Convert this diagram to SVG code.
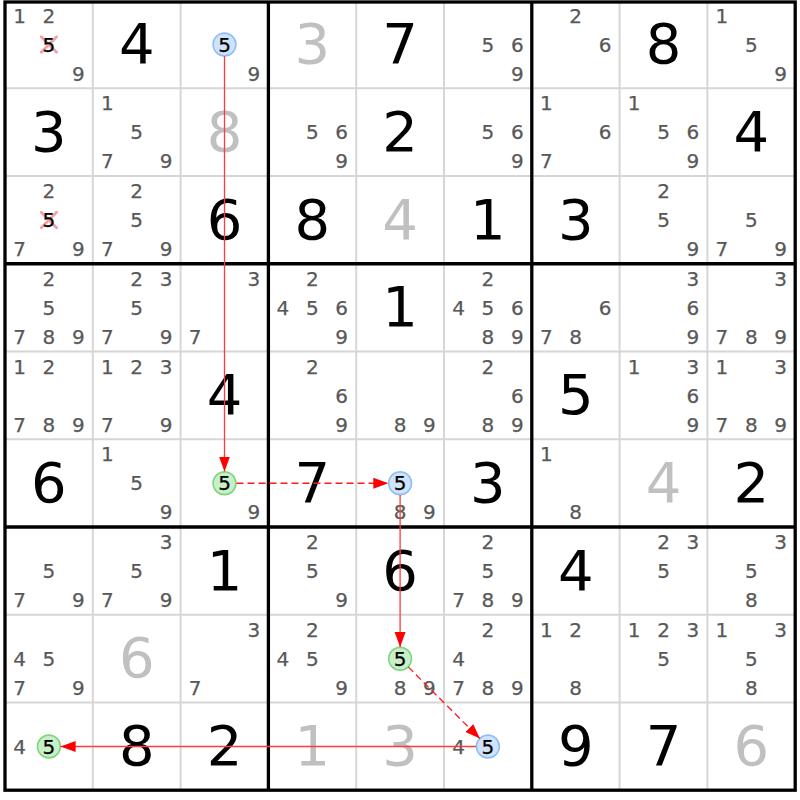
<svg xmlns="http://www.w3.org/2000/svg" width="800" height="800" viewBox="0 0 800 800">
<style>
.c{font-family:"DejaVu Sans",Verdana,sans-serif;font-size:20px;fill:#585858;stroke:#585858;stroke-width:0.25;text-anchor:middle}
.b{font-family:"DejaVu Sans",Verdana,sans-serif;font-size:56px;fill:#000;text-anchor:middle}
.g{fill:#c0c0c0}
.k{fill:#000;stroke:#000}
.thin{stroke:#d6d6d6;stroke-width:2;fill:none}
.thick{stroke:#000;stroke-width:3.3;fill:none}
.hb{fill:#cfe3fb;stroke:#8ec0f5;stroke-width:1.6}
.hg{fill:#c8efc8;stroke:#7fd67f;stroke-width:1.6}
.x{stroke:#f4a0a6;stroke-width:2.8;stroke-linecap:round}
.solid{stroke:#ff3b3b;stroke-width:1.3;fill:none}
.dash{stroke:#ff1a1a;stroke-width:1.3;fill:none;stroke-dasharray:7 4}
</style>
<defs>
<marker id="ah" markerUnits="userSpaceOnUse" markerWidth="16" markerHeight="12" refX="15" refY="5.5" orient="auto">
<path d="M0,0 L15,5.5 L0,11 z" fill="#ff0000"/>
</marker>
</defs>
<rect width="800" height="800" fill="#fff"/>
<g id="grid">
<path class="thin" d="M92.8,2V790.2M180.6,2V790.2M356.2,2V790.2M444,2V790.2M619.6,2V790.2M707.4,2V790.2M5,88.25H795.2M5,176H795.2M5,351.5H795.2M5,439.25H795.2M5,614.75H795.2M5,702.5H795.2"/>
<path class="thick" d="M268.4,2V790.2M531.8,2V790.2M5,263.75H795.2M5,527H795.2"/>
<rect class="thick" x="5" y="2" width="790.2" height="788.2"/>
</g>
<g id="cells">
<!-- Row 0 -->
<g id="r0c0" transform="translate(5,0.5)"><text class="c" x="14.5" y="22.2">1</text><text class="c" x="43.9" y="22.2">2</text><path class="x" d="M36.2,36.3L51.6,51.7M51.6,36.3L36.2,51.7"/><text class="c k" x="43.9" y="51.2">5</text><text class="c" x="73.3" y="80.2">9</text></g>
<g id="r0c1" transform="translate(92.8,0.5)"><text class="b" x="43.9" y="62.5">4</text></g>
<g id="r0c2" transform="translate(180.6,0.5)"><circle class="hb" cx="43.9" cy="44" r="11.4"/><text class="c k" x="43.9" y="51.2">5</text><text class="c" x="73.3" y="80.2">9</text></g>
<g id="r0c3" transform="translate(268.4,0.5)"><text class="b g" x="43.9" y="62.5">3</text></g>
<g id="r0c4" transform="translate(356.2,0.5)"><text class="b" x="43.9" y="62.5">7</text></g>
<g id="r0c5" transform="translate(444,0.5)"><text class="c" x="43.9" y="51.2">5</text><text class="c" x="73.3" y="51.2">6</text><text class="c" x="73.3" y="80.2">9</text></g>
<g id="r0c6" transform="translate(531.8,0.5)"><text class="c" x="43.9" y="22.2">2</text><text class="c" x="73.3" y="51.2">6</text></g>
<g id="r0c7" transform="translate(619.6,0.5)"><text class="b" x="43.9" y="62.5">8</text></g>
<g id="r0c8" transform="translate(707.4,0.5)"><text class="c" x="14.5" y="22.2">1</text><text class="c" x="43.9" y="51.2">5</text><text class="c" x="73.3" y="80.2">9</text></g>
<!-- Row 1 -->
<g id="r1c0" transform="translate(5,88.25)"><text class="b" x="43.9" y="62.5">3</text></g>
<g id="r1c1" transform="translate(92.8,88.25)"><text class="c" x="14.5" y="22.2">1</text><text class="c" x="43.9" y="51.2">5</text><text class="c" x="14.5" y="80.2">7</text><text class="c" x="73.3" y="80.2">9</text></g>
<g id="r1c2" transform="translate(180.6,88.25)"><text class="b g" x="43.9" y="62.5">8</text></g>
<g id="r1c3" transform="translate(268.4,88.25)"><text class="c" x="43.9" y="51.2">5</text><text class="c" x="73.3" y="51.2">6</text><text class="c" x="73.3" y="80.2">9</text></g>
<g id="r1c4" transform="translate(356.2,88.25)"><text class="b" x="43.9" y="62.5">2</text></g>
<g id="r1c5" transform="translate(444,88.25)"><text class="c" x="43.9" y="51.2">5</text><text class="c" x="73.3" y="51.2">6</text><text class="c" x="73.3" y="80.2">9</text></g>
<g id="r1c6" transform="translate(531.8,88.25)"><text class="c" x="14.5" y="22.2">1</text><text class="c" x="73.3" y="51.2">6</text><text class="c" x="14.5" y="80.2">7</text></g>
<g id="r1c7" transform="translate(619.6,88.25)"><text class="c" x="14.5" y="22.2">1</text><text class="c" x="43.9" y="51.2">5</text><text class="c" x="73.3" y="51.2">6</text><text class="c" x="73.3" y="80.2">9</text></g>
<g id="r1c8" transform="translate(707.4,88.25)"><text class="b" x="43.9" y="62.5">4</text></g>
<!-- Row 2 -->
<g id="r2c0" transform="translate(5,176)"><text class="c" x="43.9" y="22.2">2</text><path class="x" d="M36.2,36.3L51.6,51.7M51.6,36.3L36.2,51.7"/><text class="c k" x="43.9" y="51.2">5</text><text class="c" x="14.5" y="80.2">7</text><text class="c" x="73.3" y="80.2">9</text></g>
<g id="r2c1" transform="translate(92.8,176)"><text class="c" x="43.9" y="22.2">2</text><text class="c" x="43.9" y="51.2">5</text><text class="c" x="14.5" y="80.2">7</text><text class="c" x="73.3" y="80.2">9</text></g>
<g id="r2c2" transform="translate(180.6,176)"><text class="b" x="43.9" y="62.5">6</text></g>
<g id="r2c3" transform="translate(268.4,176)"><text class="b" x="43.9" y="62.5">8</text></g>
<g id="r2c4" transform="translate(356.2,176)"><text class="b g" x="43.9" y="62.5">4</text></g>
<g id="r2c5" transform="translate(444,176)"><text class="b" x="43.9" y="62.5">1</text></g>
<g id="r2c6" transform="translate(531.8,176)"><text class="b" x="43.9" y="62.5">3</text></g>
<g id="r2c7" transform="translate(619.6,176)"><text class="c" x="43.9" y="22.2">2</text><text class="c" x="43.9" y="51.2">5</text><text class="c" x="73.3" y="80.2">9</text></g>
<g id="r2c8" transform="translate(707.4,176)"><text class="c" x="43.9" y="51.2">5</text><text class="c" x="14.5" y="80.2">7</text><text class="c" x="73.3" y="80.2">9</text></g>
<!-- Row 3 -->
<g id="r3c0" transform="translate(5,263.75)"><text class="c" x="43.9" y="22.2">2</text><text class="c" x="43.9" y="51.2">5</text><text class="c" x="14.5" y="80.2">7</text><text class="c" x="43.9" y="80.2">8</text><text class="c" x="73.3" y="80.2">9</text></g>
<g id="r3c1" transform="translate(92.8,263.75)"><text class="c" x="43.9" y="22.2">2</text><text class="c" x="73.3" y="22.2">3</text><text class="c" x="43.9" y="51.2">5</text><text class="c" x="14.5" y="80.2">7</text><text class="c" x="73.3" y="80.2">9</text></g>
<g id="r3c2" transform="translate(180.6,263.75)"><text class="c" x="73.3" y="22.2">3</text><text class="c" x="14.5" y="80.2">7</text></g>
<g id="r3c3" transform="translate(268.4,263.75)"><text class="c" x="43.9" y="22.2">2</text><text class="c" x="14.5" y="51.2">4</text><text class="c" x="43.9" y="51.2">5</text><text class="c" x="73.3" y="51.2">6</text><text class="c" x="73.3" y="80.2">9</text></g>
<g id="r3c4" transform="translate(356.2,263.75)"><text class="b" x="43.9" y="62.5">1</text></g>
<g id="r3c5" transform="translate(444,263.75)"><text class="c" x="43.9" y="22.2">2</text><text class="c" x="14.5" y="51.2">4</text><text class="c" x="43.9" y="51.2">5</text><text class="c" x="73.3" y="51.2">6</text><text class="c" x="43.9" y="80.2">8</text><text class="c" x="73.3" y="80.2">9</text></g>
<g id="r3c6" transform="translate(531.8,263.75)"><text class="c" x="73.3" y="51.2">6</text><text class="c" x="14.5" y="80.2">7</text><text class="c" x="43.9" y="80.2">8</text></g>
<g id="r3c7" transform="translate(619.6,263.75)"><text class="c" x="73.3" y="22.2">3</text><text class="c" x="73.3" y="51.2">6</text><text class="c" x="73.3" y="80.2">9</text></g>
<g id="r3c8" transform="translate(707.4,263.75)"><text class="c" x="73.3" y="22.2">3</text><text class="c" x="14.5" y="80.2">7</text><text class="c" x="43.9" y="80.2">8</text><text class="c" x="73.3" y="80.2">9</text></g>
<!-- Row 4 -->
<g id="r4c0" transform="translate(5,351.5)"><text class="c" x="14.5" y="22.2">1</text><text class="c" x="43.9" y="22.2">2</text><text class="c" x="14.5" y="80.2">7</text><text class="c" x="43.9" y="80.2">8</text><text class="c" x="73.3" y="80.2">9</text></g>
<g id="r4c1" transform="translate(92.8,351.5)"><text class="c" x="14.5" y="22.2">1</text><text class="c" x="43.9" y="22.2">2</text><text class="c" x="73.3" y="22.2">3</text><text class="c" x="14.5" y="80.2">7</text><text class="c" x="73.3" y="80.2">9</text></g>
<g id="r4c2" transform="translate(180.6,351.5)"><text class="b" x="43.9" y="62.5">4</text></g>
<g id="r4c3" transform="translate(268.4,351.5)"><text class="c" x="43.9" y="22.2">2</text><text class="c" x="73.3" y="51.2">6</text><text class="c" x="73.3" y="80.2">9</text></g>
<g id="r4c4" transform="translate(356.2,351.5)"><text class="c" x="43.9" y="80.2">8</text><text class="c" x="73.3" y="80.2">9</text></g>
<g id="r4c5" transform="translate(444,351.5)"><text class="c" x="43.9" y="22.2">2</text><text class="c" x="73.3" y="51.2">6</text><text class="c" x="43.9" y="80.2">8</text><text class="c" x="73.3" y="80.2">9</text></g>
<g id="r4c6" transform="translate(531.8,351.5)"><text class="b" x="43.9" y="62.5">5</text></g>
<g id="r4c7" transform="translate(619.6,351.5)"><text class="c" x="14.5" y="22.2">1</text><text class="c" x="73.3" y="22.2">3</text><text class="c" x="73.3" y="51.2">6</text><text class="c" x="73.3" y="80.2">9</text></g>
<g id="r4c8" transform="translate(707.4,351.5)"><text class="c" x="14.5" y="22.2">1</text><text class="c" x="73.3" y="22.2">3</text><text class="c" x="14.5" y="80.2">7</text><text class="c" x="43.9" y="80.2">8</text><text class="c" x="73.3" y="80.2">9</text></g>
<!-- Row 5 -->
<g id="r5c0" transform="translate(5,439.25)"><text class="b" x="43.9" y="62.5">6</text></g>
<g id="r5c1" transform="translate(92.8,439.25)"><text class="c" x="14.5" y="22.2">1</text><text class="c" x="43.9" y="51.2">5</text><text class="c" x="73.3" y="80.2">9</text></g>
<g id="r5c2" transform="translate(180.6,439.25)"><circle class="hg" cx="43.9" cy="44" r="11.4"/><text class="c k" x="43.9" y="51.2">5</text><text class="c" x="73.3" y="80.2">9</text></g>
<g id="r5c3" transform="translate(268.4,439.25)"><text class="b" x="43.9" y="62.5">7</text></g>
<g id="r5c4" transform="translate(356.2,439.25)"><circle class="hb" cx="43.9" cy="44" r="11.4"/><text class="c k" x="43.9" y="51.2">5</text><text class="c" x="43.9" y="80.2">8</text><text class="c" x="73.3" y="80.2">9</text></g>
<g id="r5c5" transform="translate(444,439.25)"><text class="b" x="43.9" y="62.5">3</text></g>
<g id="r5c6" transform="translate(531.8,439.25)"><text class="c" x="14.5" y="22.2">1</text><text class="c" x="43.9" y="80.2">8</text></g>
<g id="r5c7" transform="translate(619.6,439.25)"><text class="b g" x="43.9" y="62.5">4</text></g>
<g id="r5c8" transform="translate(707.4,439.25)"><text class="b" x="43.9" y="62.5">2</text></g>
<!-- Row 6 -->
<g id="r6c0" transform="translate(5,527)"><text class="c" x="43.9" y="51.2">5</text><text class="c" x="14.5" y="80.2">7</text><text class="c" x="73.3" y="80.2">9</text></g>
<g id="r6c1" transform="translate(92.8,527)"><text class="c" x="73.3" y="22.2">3</text><text class="c" x="43.9" y="51.2">5</text><text class="c" x="14.5" y="80.2">7</text><text class="c" x="73.3" y="80.2">9</text></g>
<g id="r6c2" transform="translate(180.6,527)"><text class="b" x="43.9" y="62.5">1</text></g>
<g id="r6c3" transform="translate(268.4,527)"><text class="c" x="43.9" y="22.2">2</text><text class="c" x="43.9" y="51.2">5</text><text class="c" x="73.3" y="80.2">9</text></g>
<g id="r6c4" transform="translate(356.2,527)"><text class="b" x="43.9" y="62.5">6</text></g>
<g id="r6c5" transform="translate(444,527)"><text class="c" x="43.9" y="22.2">2</text><text class="c" x="43.9" y="51.2">5</text><text class="c" x="14.5" y="80.2">7</text><text class="c" x="43.9" y="80.2">8</text><text class="c" x="73.3" y="80.2">9</text></g>
<g id="r6c6" transform="translate(531.8,527)"><text class="b" x="43.9" y="62.5">4</text></g>
<g id="r6c7" transform="translate(619.6,527)"><text class="c" x="43.9" y="22.2">2</text><text class="c" x="73.3" y="22.2">3</text><text class="c" x="43.9" y="51.2">5</text></g>
<g id="r6c8" transform="translate(707.4,527)"><text class="c" x="73.3" y="22.2">3</text><text class="c" x="43.9" y="51.2">5</text><text class="c" x="43.9" y="80.2">8</text></g>
<!-- Row 7 -->
<g id="r7c0" transform="translate(5,614.75)"><text class="c" x="14.5" y="51.2">4</text><text class="c" x="43.9" y="51.2">5</text><text class="c" x="14.5" y="80.2">7</text><text class="c" x="73.3" y="80.2">9</text></g>
<g id="r7c1" transform="translate(92.8,614.75)"><text class="b g" x="43.9" y="62.5">6</text></g>
<g id="r7c2" transform="translate(180.6,614.75)"><text class="c" x="73.3" y="22.2">3</text><text class="c" x="14.5" y="80.2">7</text></g>
<g id="r7c3" transform="translate(268.4,614.75)"><text class="c" x="43.9" y="22.2">2</text><text class="c" x="14.5" y="51.2">4</text><text class="c" x="43.9" y="51.2">5</text><text class="c" x="73.3" y="80.2">9</text></g>
<g id="r7c4" transform="translate(356.2,614.75)"><circle class="hg" cx="43.9" cy="44" r="11.4"/><text class="c k" x="43.9" y="51.2">5</text><text class="c" x="43.9" y="80.2">8</text><text class="c" x="73.3" y="80.2">9</text></g>
<g id="r7c5" transform="translate(444,614.75)"><text class="c" x="43.9" y="22.2">2</text><text class="c" x="14.5" y="51.2">4</text><text class="c" x="14.5" y="80.2">7</text><text class="c" x="43.9" y="80.2">8</text><text class="c" x="73.3" y="80.2">9</text></g>
<g id="r7c6" transform="translate(531.8,614.75)"><text class="c" x="14.5" y="22.2">1</text><text class="c" x="43.9" y="22.2">2</text><text class="c" x="43.9" y="80.2">8</text></g>
<g id="r7c7" transform="translate(619.6,614.75)"><text class="c" x="14.5" y="22.2">1</text><text class="c" x="43.9" y="22.2">2</text><text class="c" x="73.3" y="22.2">3</text><text class="c" x="43.9" y="51.2">5</text></g>
<g id="r7c8" transform="translate(707.4,614.75)"><text class="c" x="14.5" y="22.2">1</text><text class="c" x="73.3" y="22.2">3</text><text class="c" x="43.9" y="51.2">5</text><text class="c" x="43.9" y="80.2">8</text></g>
<!-- Row 8 -->
<g id="r8c0" transform="translate(5,702.5)"><text class="c" x="14.5" y="51.2">4</text><circle class="hg" cx="43.9" cy="44" r="11.4"/><text class="c k" x="43.9" y="51.2">5</text></g>
<g id="r8c1" transform="translate(92.8,702.5)"><text class="b" x="43.9" y="62.5">8</text></g>
<g id="r8c2" transform="translate(180.6,702.5)"><text class="b" x="43.9" y="62.5">2</text></g>
<g id="r8c3" transform="translate(268.4,702.5)"><text class="b g" x="43.9" y="62.5">1</text></g>
<g id="r8c4" transform="translate(356.2,702.5)"><text class="b g" x="43.9" y="62.5">3</text></g>
<g id="r8c5" transform="translate(444,702.5)"><text class="c" x="14.5" y="51.2">4</text><circle class="hb" cx="43.9" cy="44" r="11.4"/><text class="c k" x="43.9" y="51.2">5</text></g>
<g id="r8c6" transform="translate(531.8,702.5)"><text class="b" x="43.9" y="62.5">9</text></g>
<g id="r8c7" transform="translate(619.6,702.5)"><text class="b" x="43.9" y="62.5">7</text></g>
<g id="r8c8" transform="translate(707.4,702.5)"><text class="b g" x="43.9" y="62.5">6</text></g>
</g>
<g id="connectors">
<line class="solid" x1="224.5" y1="56" x2="224.5" y2="471.5" marker-end="url(#ah)"/>
<line class="dash" x1="236.5" y1="483.25" x2="388.3" y2="483.25" marker-end="url(#ah)"/>
<line class="solid" x1="400.1" y1="495" x2="400.1" y2="647" marker-end="url(#ah)"/>
<line class="dash" x1="408.2" y1="666.9" x2="479.9" y2="738.6" marker-end="url(#ah)"/>
<line class="solid" x1="476.2" y1="746.5" x2="60.6" y2="746.5" marker-end="url(#ah)"/>
</g>
</svg>
